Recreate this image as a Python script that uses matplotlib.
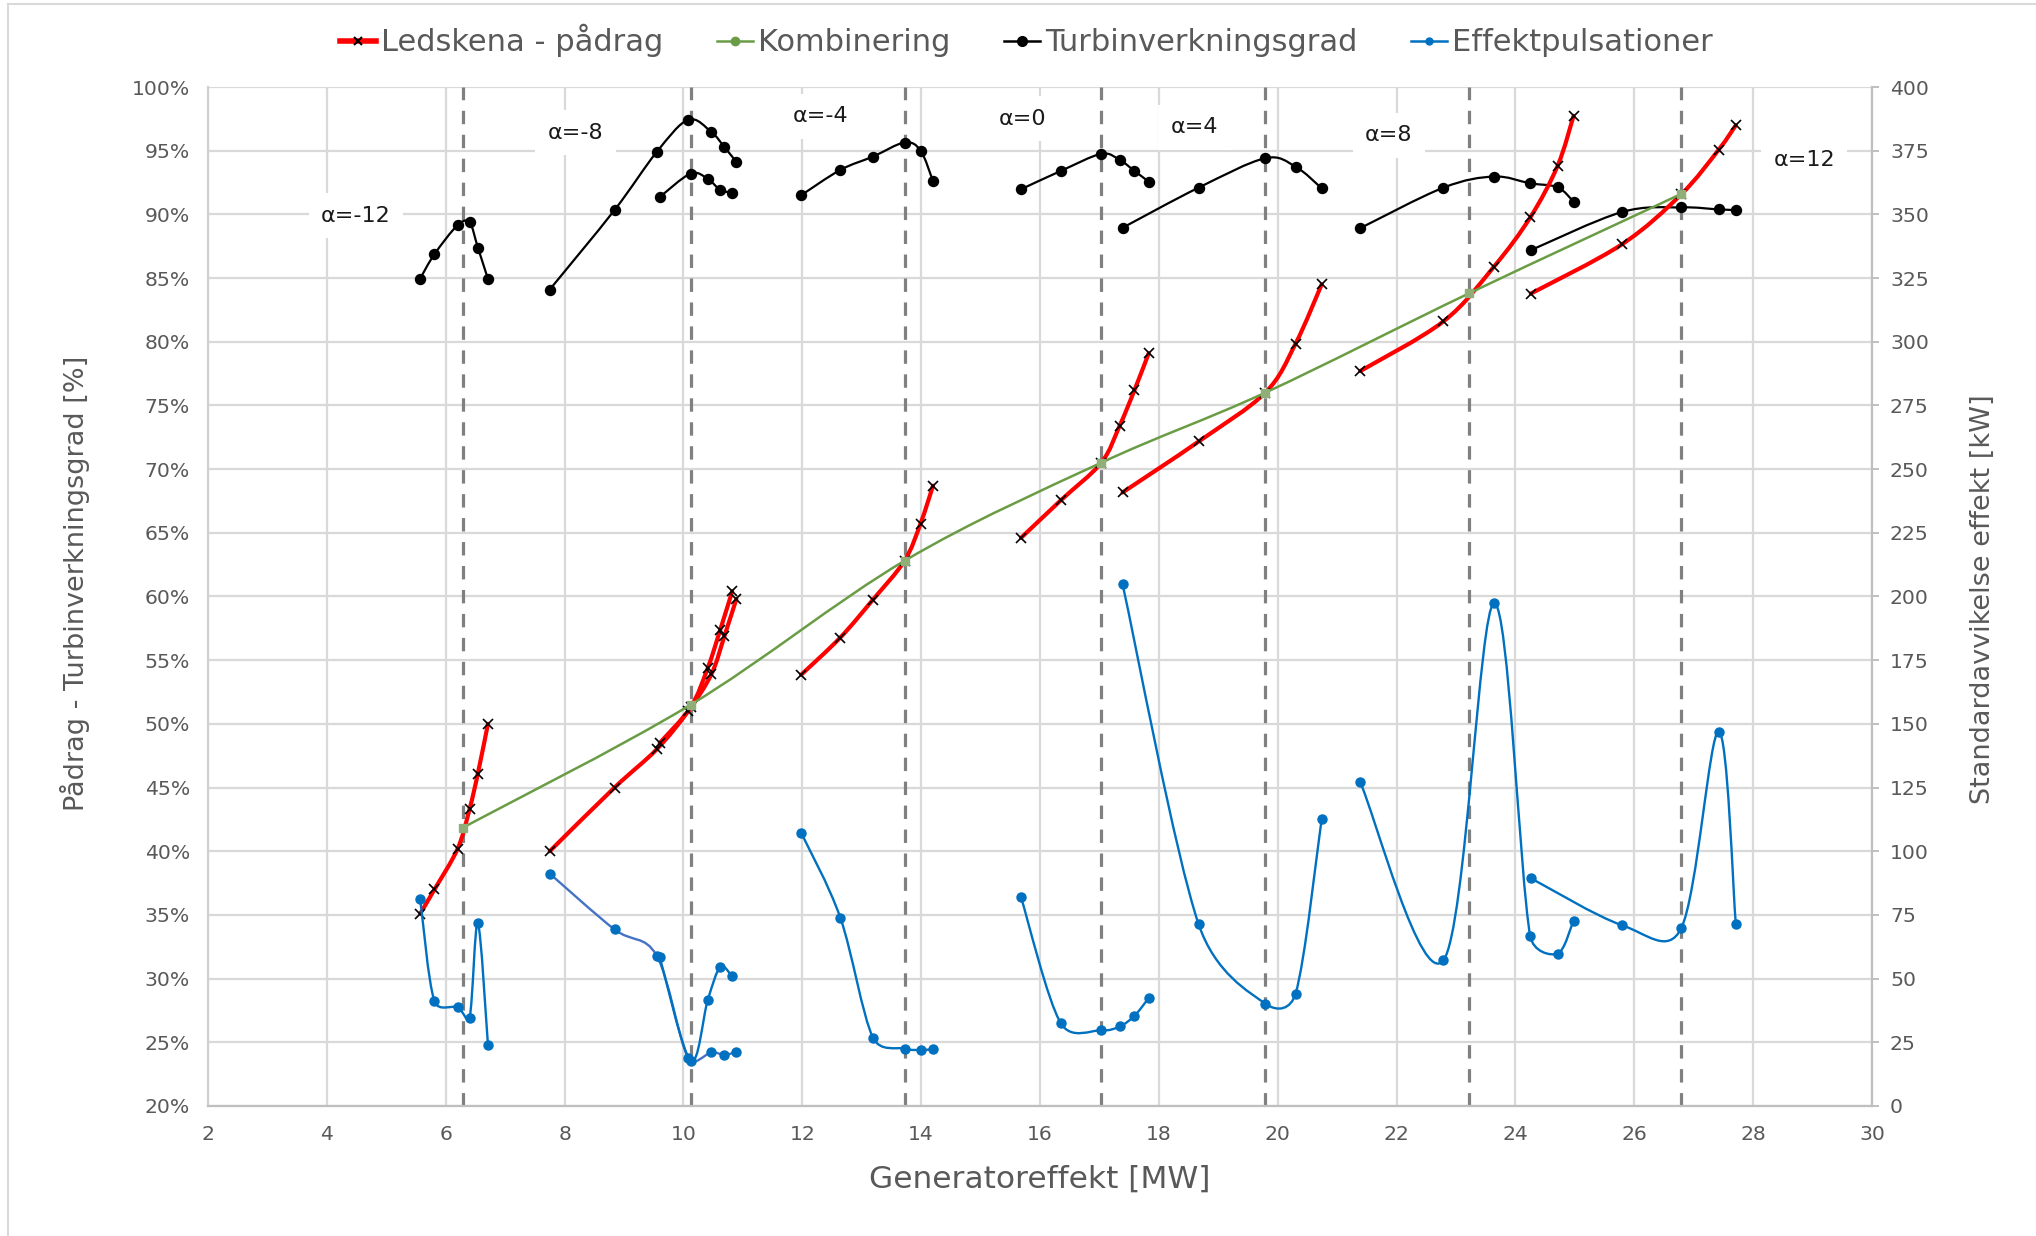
import numpy as np
import matplotlib
matplotlib.use("Agg")
import matplotlib.pyplot as plt
from matplotlib.path import Path
from matplotlib.patches import PathPatch
from matplotlib.lines import Line2D

# ---------------- data ----------------
# alpha = -12
a12n_x = [5.57, 5.81, 6.20, 6.40, 6.54, 6.71]
a12n_eff = [84.96, 86.88, 89.16, 89.37, 87.40, 84.93]
a12n_gv = [35.1, 37.0, 40.2, 43.3, 46.1, 50.0]
a12n_puls = [81.1, 41.1, 38.7, 34.5, 71.7, 24.0]
# alpha = -8 (two runs)
a8nA_x = [7.75, 8.84, 9.55, 10.08, 10.47, 10.69, 10.89]
a8nA_eff = [84.1, 90.34, 94.9, 97.43, 96.46, 95.28, 94.12]
a8nA_gv = [40.0, 45.0, 48.0, 51.0, 53.9, 56.9, 59.8]
a8nA_puls = [91.2, 69.3, 59.0, 18.8, 21.0, 20.1, 21.2]
a8nB_x = [9.60, 10.12, 10.41, 10.62, 10.82]
a8nB_eff = [91.36, 93.2, 92.78, 91.92, 91.71]
a8nB_gv = [48.5, 51.3, 54.4, 57.4, 60.4]
a8nB_puls = [58.5, 17.8, 41.7, 54.5, 50.9]
# alpha = -4
a4n_x = [11.98, 12.64, 13.19, 13.72, 13.99, 14.20]
a4n_eff = [91.5, 93.49, 94.54, 95.64, 95.01, 92.6]
a4n_gv = [53.85, 56.78, 59.76, 62.8, 65.73, 68.7]
a4n_puls = [107.3, 73.9, 26.8, 22.5, 22.0, 22.3]
# alpha = 0
a0_x = [15.68, 16.35, 17.03, 17.34, 17.59, 17.83]
a0_eff = [91.97, 93.41, 94.75, 94.28, 93.41, 92.57]
a0_gv = [64.6, 67.55, 70.5, 73.4, 76.2, 79.1]
a0_puls = [82.0, 32.5, 29.7, 31.2, 35.4, 42.4]
# alpha = 4
a4_x = [17.39, 18.67, 19.79, 20.30, 20.74]
a4_eff = [88.95, 92.1, 94.41, 93.75, 92.05]
a4_gv = [68.17, 72.17, 76.0, 79.84, 84.5]
a4_puls = [204.8, 71.3, 40.2, 44.0, 112.6]
# alpha = 8
a8_x = [21.39, 22.79, 23.64, 24.25, 24.71, 24.98]
a8_eff = [88.92, 92.1, 92.97, 92.44, 92.13, 91.0]
a8_gv = [77.7, 81.6, 85.9, 89.76, 93.8, 97.74]
a8_puls = [127.0, 57.2, 197.3, 66.7, 59.8, 72.8]
# alpha = 12
a12_x = [24.26, 25.79, 26.79, 27.42, 27.71]
a12_eff = [87.19, 90.18, 90.55, 90.39, 90.34]
a12_gv = [83.78, 87.64, 91.57, 95.07, 97.0]
a12_puls = [89.4, 71.0, 69.7, 147.0, 71.3]

# Kombinering (best points, also the dashed reference lines)
komb_x = [6.29, 10.12, 13.72, 17.03, 19.79, 23.22, 26.79]
komb_y = [41.86, 51.5, 62.8, 70.5, 76.0, 83.8, 91.6]

alpha_labels = ["α=-12", "α=-8", "α=-4", "α=0", "α=4", "α=8", "α=12"]

x_ticks = list(range(2, 31, 2))
y_ticks = list(range(20, 101, 5))
y2_ticks = list(range(0, 401, 25))

legend_names = ["Ledskena - pådrag", "Kombinering", "Turbinverkningsgrad", "Effektpulsationer"]

# ---------------- style ----------------
FONT = "DejaVu Sans"
TXT = "#595959"
GRID = "#d9d9d9"
RED = "#ff0000"
GREEN = "#6a9c45"
BLUE = "#0070c0"
BLUE2 = "#4472c4"


def smooth_path(axis, x, y, cap=0.5):
    """Excel-like smoothed line: cubic Bezier segments, built in display space."""
    P = axis.transData.transform(np.column_stack([x, y]))
    n = len(P)
    T = []
    for i in range(n):
        a = P[i - 1] if i > 0 else P[i]
        b = P[i + 1] if i + 1 < n else P[i]
        T.append((b - a) / 6.0)

    def capped(t, seg):
        L = np.hypot(*t)
        m = cap * seg
        return t * (m / L) if L > m and L > 0 else t

    verts = [P[0]]
    codes = [Path.MOVETO]
    for i in range(n - 1):
        seg = np.hypot(*(P[i + 1] - P[i]))
        c1 = P[i] + capped(T[i], seg)
        c2 = P[i + 1] - capped(T[i + 1], seg)
        verts += [c1, c2, P[i + 1]]
        codes += [Path.CURVE4] * 3
    verts = axis.transData.inverted().transform(np.array(verts))
    return Path(verts, codes)


def smooth_line(axis, x, y, color, lw, z, marker=None, ms=6, mfc=None, mec=None, mew=1.0):
    axis.add_patch(PathPatch(smooth_path(axis, x, y), fill=False, edgecolor=color, lw=lw,
                             zorder=z, capstyle="round", joinstyle="round"))
    if marker:
        axis.plot(x, y, ls="none", marker=marker, ms=ms, mfc=mfc or color,
                  mec=mec or color, mew=mew, zorder=z + 0.1)


plt.rcParams["font.family"] = [FONT]
fig = plt.figure(figsize=(20.36, 12.36), dpi=100)
ax = fig.add_axes([0.1022, 0.1052, 0.8172, 0.8244])
ax2 = ax.twinx()

ax.set_xlim(2, 30)
ax.set_ylim(20, 100)
ax2.set_ylim(0, 400)

ax.set_xticks(x_ticks)
ax.set_yticks(y_ticks)
ax.set_yticklabels([f"{v}%" for v in y_ticks])
ax2.set_yticks(y2_ticks)

ax.grid(True, color=GRID, lw=1.6, zorder=0)
ax.set_axisbelow(True)
ax.spines["top"].set_visible(False)
ax2.spines["top"].set_visible(False)
ax.spines["left"].set_color("#d0d0d0")
ax.spines["bottom"].set_color("#bfbfbf")
ax.spines["right"].set_visible(False)
ax2.spines["left"].set_visible(False)
ax2.spines["bottom"].set_visible(False)
ax2.spines["right"].set_color("#bfbfbf")
for sp in ax.spines.values():
    sp.set_linewidth(1.6)
ax2.spines["right"].set_linewidth(1.6)

ax.tick_params(axis="both", length=0, labelsize=14.7, labelcolor=TXT)
ax.tick_params(axis="y", pad=13)
ax.tick_params(axis="x", pad=14)
ax2.tick_params(axis="y", length=5, width=1.4, color="#bfbfbf", labelsize=14.7, labelcolor=TXT, pad=8)

# dashed reference lines at the combination points
for xv in komb_x:
    ax.axvline(xv, color="#808080", lw=2.3, ls=(0, (4.2, 3.3)), zorder=1.5)

# efficiency (black)
for xs, ys in [(a12n_x, a12n_eff), (a8nA_x, a8nA_eff), (a8nB_x, a8nB_eff), (a4n_x, a4n_eff),
               (a0_x, a0_eff), (a4_x, a4_eff), (a8_x, a8_eff), (a12_x, a12_eff)]:
    smooth_line(ax, xs, ys, "black", 1.6, 3, marker="o", ms=7.2)

# guide vane opening (red)
for xs, ys in [(a12n_x, a12n_gv), (a8nA_x, a8nA_gv), (a8nB_x, a8nB_gv), (a4n_x, a4n_gv),
               (a0_x, a0_gv), (a4_x, a4_gv), (a8_x, a8_gv), (a12_x, a12_gv)]:
    smooth_line(ax, xs, ys, RED, 3.0, 3, marker="x", ms=7, mfc="black", mec="black", mew=1.2)

# combination (green)
smooth_line(ax, komb_x, komb_y, GREEN, 1.8, 4, marker="s", ms=6, mfc="#8fae78", mec="#8fae78")

# power pulsations (blue, right axis)
for xs, ys, c in [(a12n_x, a12n_puls, BLUE), (a8nA_x, a8nA_puls, BLUE2), (a8nB_x, a8nB_puls, BLUE),
                  (a4n_x, a4n_puls, BLUE), (a0_x, a0_puls, BLUE), (a4_x, a4_puls, BLUE),
                  (a8_x, a8_puls, BLUE), (a12_x, a12_puls, BLUE)]:
    smooth_line(ax2, xs, ys, c, 1.7, 3, marker="o", ms=6.5, mfc=BLUE, mec=BLUE)

# alpha labels
alpha_pos = [(4.49, 89.9), (8.18, 96.4), (12.31, 97.7), (15.71, 97.5), (18.6, 96.85), (21.87, 96.2), (28.86, 94.3)]
for lab, (xp, yp) in zip(alpha_labels, alpha_pos):
    ax.text(xp, yp, lab, ha="center", va="center", fontsize=16, color="#1a1a1a",
            zorder=2, bbox=dict(facecolor="white", edgecolor="none", pad=9))

# axis titles
fig.text(0.5108, 0.046, "Generatoreffekt [MW]", ha="center", va="center", fontsize=22.5, color=TXT)
fig.text(0.037, 0.528, "Pådrag - Turbinverkningsgrad [%]", ha="center", va="center", rotation=90,
         fontsize=19.5, color=TXT)
fig.text(0.974, 0.515, "Standardavvikelse effekt [kW]", ha="center", va="center", rotation=90,
         fontsize=19.5, color=TXT)

# legend
handles = [
    Line2D([], [], color=RED, lw=4, marker="x", ms=6, mec="black", mew=1.5),
    Line2D([], [], color=GREEN, lw=1.8, marker="o", ms=6),
    Line2D([], [], color="black", lw=1.8, marker="o", ms=7),
    Line2D([], [], color=BLUE, lw=1.8, marker="o", ms=5),
]
leg = fig.legend(handles, legend_names, loc="center", bbox_to_anchor=(0.504, 0.967), ncol=4,
                 frameon=False, handlelength=1.2, handletextpad=0.15, columnspacing=1.75,
                 prop={"family": FONT, "size": 22})
for t in leg.get_texts():
    t.set_color(TXT)

# chart border (top + left)
fig.add_artist(Line2D([0.004, 1.0], [0.9965, 0.9965], transform=fig.transFigure, color="#d9d9d9", lw=1.5))
fig.add_artist(Line2D([0.004, 0.004], [0.0, 0.9965], transform=fig.transFigure, color="#d9d9d9", lw=1.5))

fig.savefig("out.png", dpi=100, facecolor="white")
